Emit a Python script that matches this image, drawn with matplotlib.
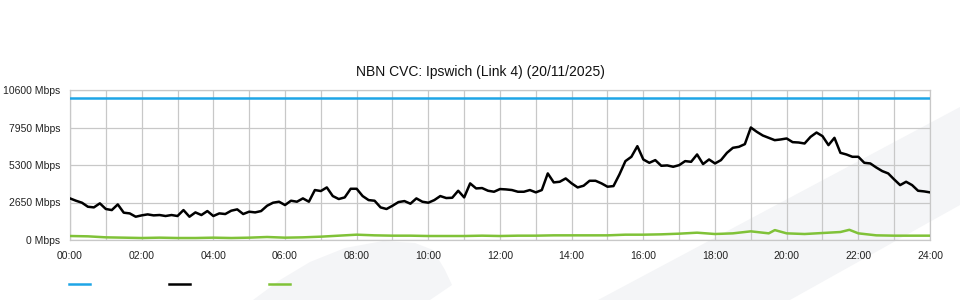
import numpy as np
import matplotlib.pyplot as plt
from matplotlib.patches import Polygon

plt.rcParams['font.family'] = ['Liberation Sans', 'DejaVu Sans']

title = 'NBN CVC: Ipswich (Link 4) (20/11/2025)'

## capacity (blue), flat line
capacity = 10000

## traffic (black), one value every 10 minutes from 00:00 to 24:00
traffic = [
    2940, 2775, 2635, 2350, 2305, 2590,
    2190, 2115, 2515, 1930, 1880, 1645,
    1740, 1810, 1740, 1765, 1695, 1765,
    1695, 2115, 1645, 1950, 1765, 2045,
    1695, 1880, 1835, 2070, 2165, 1835,
    2000, 1950, 2045, 2420, 2635, 2705,
    2470, 2775, 2705, 2940, 2705, 3530,
    3460, 3715, 3105, 2895, 3010, 3620,
    3620, 3105, 2820, 2775, 2305, 2190,
    2420, 2680, 2750, 2565, 2940, 2705,
    2635, 2820, 3105, 2965, 2985, 3480,
    3010, 4000, 3645, 3670, 3480, 3410,
    3600, 3575, 3530, 3410, 3410, 3530,
    3365, 3530, 4705, 4070, 4115, 4350,
    4000, 3715, 3835, 4185, 4185, 4000,
    3765, 3810, 4635, 5575, 5880, 6630,
    5690, 5455, 5645, 5245, 5270, 5175,
    5290, 5575, 5525, 6045, 5365, 5690,
    5410, 5645, 6160, 6515, 6585, 6775,
    7950, 7645, 7385, 7220, 7055, 7105,
    7175, 6915, 6890, 6820, 7290, 7595,
    7340, 6705, 7220, 6160, 6045, 5880,
    5880, 5455, 5410, 5125, 4870, 4705,
    4280, 3880, 4115, 3880, 3480, 3435,
    3365,
]
traffic_hours = np.arange(len(traffic)) / 6.0

## upload (green)
upload_hours = [0, 0.5, 1, 1.5, 2, 2.5, 3, 3.5, 4, 4.5, 5, 5.5, 6, 6.5, 7, 7.5,
                8, 8.5, 9, 9.5, 10, 10.5, 11, 11.5, 12, 12.5, 13, 13.5, 14, 14.5,
                15, 15.5, 16, 16.5, 17, 17.5, 18, 18.5, 19, 19.5, 19.67, 20,
                20.5, 21, 21.5, 21.75, 22, 22.5, 23, 23.5, 24]
upload = [282, 259, 188, 165, 141, 165, 141, 141, 165, 141, 165, 212, 165, 188,
          235, 306, 376, 329, 306, 306, 282, 282, 282, 306, 282, 306, 306, 329,
          329, 329, 329, 376, 376, 400, 447, 517, 423, 470, 612, 470, 700, 470,
          423, 494, 564, 720, 470, 329, 306, 306, 306]

y_ticks = [0, 2650, 5300, 7950, 10600]
x_ticks = list(range(0, 25, 2))
x_labels = ['%02d:00' % h for h in x_ticks]

fig = plt.figure(figsize=(9.6, 3.0), dpi=100)

## faint watermark shapes behind the chart
wm = '#f4f5f7'
blob = [(253, 300), (280, 280), (310, 262), (345, 248), (383, 241), (415, 243),
        (433, 250), (445, 270), (452, 285), (430, 300)]
band = [(598, 300), (960, 107), (960, 205), (790, 300)]
for shape in (blob, band):
    pts = [(x / 960.0, 1 - y / 300.0) for x, y in shape]
    fig.patches.append(Polygon(pts, closed=True, transform=fig.transFigure,
                               facecolor=wm, edgecolor='none', zorder=-5))

ax = fig.add_axes([70 / 960, 60 / 300, 860 / 960, 150 / 300])
ax.patch.set_alpha(0)

blue_line, = ax.plot([0, 24], [capacity, capacity], color='#1ea5e6', lw=1.8, zorder=3)
black_line, = ax.plot(traffic_hours, traffic, color='black', lw=1.8, zorder=4)
green_line, = ax.plot(upload_hours, upload, color='#80c238', lw=1.8, zorder=3)

ax.set_xlim(0, 24)
ax.set_ylim(0, 10600)
ax.set_xticks(x_ticks)
ax.set_xticklabels(x_labels)
ax.set_xticks(range(25), minor=True)
ax.set_yticks(y_ticks)
ax.set_yticklabels(['%d Mbps' % v for v in y_ticks])
ax.tick_params(which='both', length=0, labelsize=7.5, colors='#222222')
ax.tick_params(axis='x', pad=8)
ax.tick_params(axis='y', pad=7)
ax.grid(True, which='both', color='#c8c8c8', lw=0.9)
ax.set_axisbelow(True)
for s in ax.spines.values():
    s.set_color('#c8c8c8')
    s.set_linewidth(0.9)

fig.text(0.5, 1 - 72 / 300, title, ha='center', va='center', fontsize=10, color='#111111')

fig.legend([blue_line, black_line, green_line], ['', '', ''], ncol=3,
           loc='center left', bbox_to_anchor=(62 / 960, 1 - 285 / 300),
           frameon=False, fontsize=10, handlelength=1.5, handletextpad=0,
           columnspacing=5.7, borderpad=0)

plt.savefig('out.png')
